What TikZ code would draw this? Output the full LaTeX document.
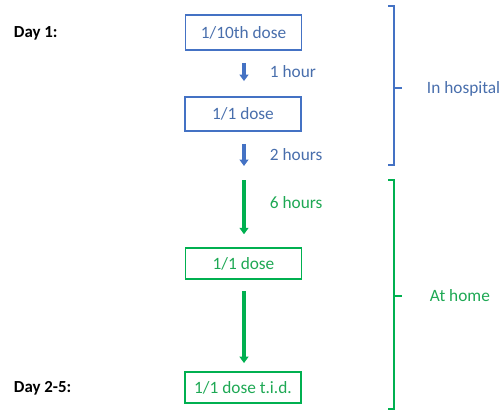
\documentclass[tikz,border=0pt]{standalone}
\usepackage{fontspec}
\setmainfont{Carlito}
\usepackage{tikz}
\usetikzlibrary{positioning,arrows.meta}
\definecolor{HospBlue}{RGB}{68,114,196}
\definecolor{HospText}{RGB}{72,110,172}
\definecolor{HomeGreen}{RGB}{0,176,80}
\definecolor{HomeText}{RGB}{30,168,84}
\tikzset{
  dosebox/.style={draw=#1,line width=1.3pt,minimum width=2.9cm,minimum height=0.8cm,inner sep=0pt,font=\fontsize{12.3}{14}\selectfont},
  waitarrow/.style={draw=#1,line width=2.2pt,-{Triangle[width=0.22cm,length=0.16cm]}},
  waitlabel/.style={anchor=west,font=\fontsize{12.3}{14}\selectfont},
  daylabel/.style={anchor=west,font=\fontsize{12}{14}\selectfont\bfseries}
}

\begin{document}
\begin{tikzpicture}[x=0.025cm,y=-0.025cm]
\useasboundingbox (0,0) rectangle (500,414);
\node[dosebox=HospBlue,text=HospText,minimum height=0.875cm] (d1) at (243.5,32.5) {1/10th dose};
\node[dosebox=HospBlue,text=HospText,minimum height=0.85cm] (d2) at (243,114) {1/1 dose};
\node[dosebox=HomeGreen,text=HomeText,minimum height=0.775cm] (d3) at (243.5,263.5) {1/1 dose};
\node[dosebox=HomeGreen,text=HomeText,minimum height=0.775cm] (d4) at (243,387.5) {1/1 dose t.i.d.};
\coordinate (mid) at (244,173);
\draw[waitarrow=HospBlue] ([yshift=-0.3cm]d1.south -| mid) -- ([yshift=0.375cm]d2.north -| mid);
\draw[waitarrow=HospBlue] ([yshift=-0.3cm]d2.south -| mid) -- ([yshift=0.175cm]mid);
\draw[waitarrow=HomeGreen,line width=2.6pt] ([yshift=-0.175cm]mid) -- ([yshift=0.32cm]d3.north -| mid);
\draw[waitarrow=HomeGreen,line width=2.6pt] ([yshift=-0.28cm]d3.south -| mid) -- ([yshift=0.2cm]d4.north -| mid);
\node[waitlabel,text=HospText] (w1) at (265,72) {1 hour};
\node[waitlabel,text=HospText] (w2) at (265,155) {2 hours};
\node[waitlabel,text=HomeText] (w3) at (265,203) {6 hours};
\draw[HospBlue,line width=1.3pt] (388,6) -- (394,6) -- (394,165) -- (388,165);
\draw[HospBlue,line width=1.3pt] (394,88) -- (402,88);
\draw[HomeGreen,line width=1.3pt] (388,180) -- (394,180) -- (394,409) -- (388,409);
\draw[HomeGreen,line width=1.3pt] (394,296) -- (402,296);
\node[waitlabel,text=HospText] (hosp) at (422,89) {In hospital};
\node[waitlabel,text=HomeText] (home) at (425,296) {At home};
\node[daylabel] (day1) at (9,33) {Day 1:};
\node[daylabel] (day2) at (9,388) {Day 2-5:};
\end{tikzpicture}
\end{document}
